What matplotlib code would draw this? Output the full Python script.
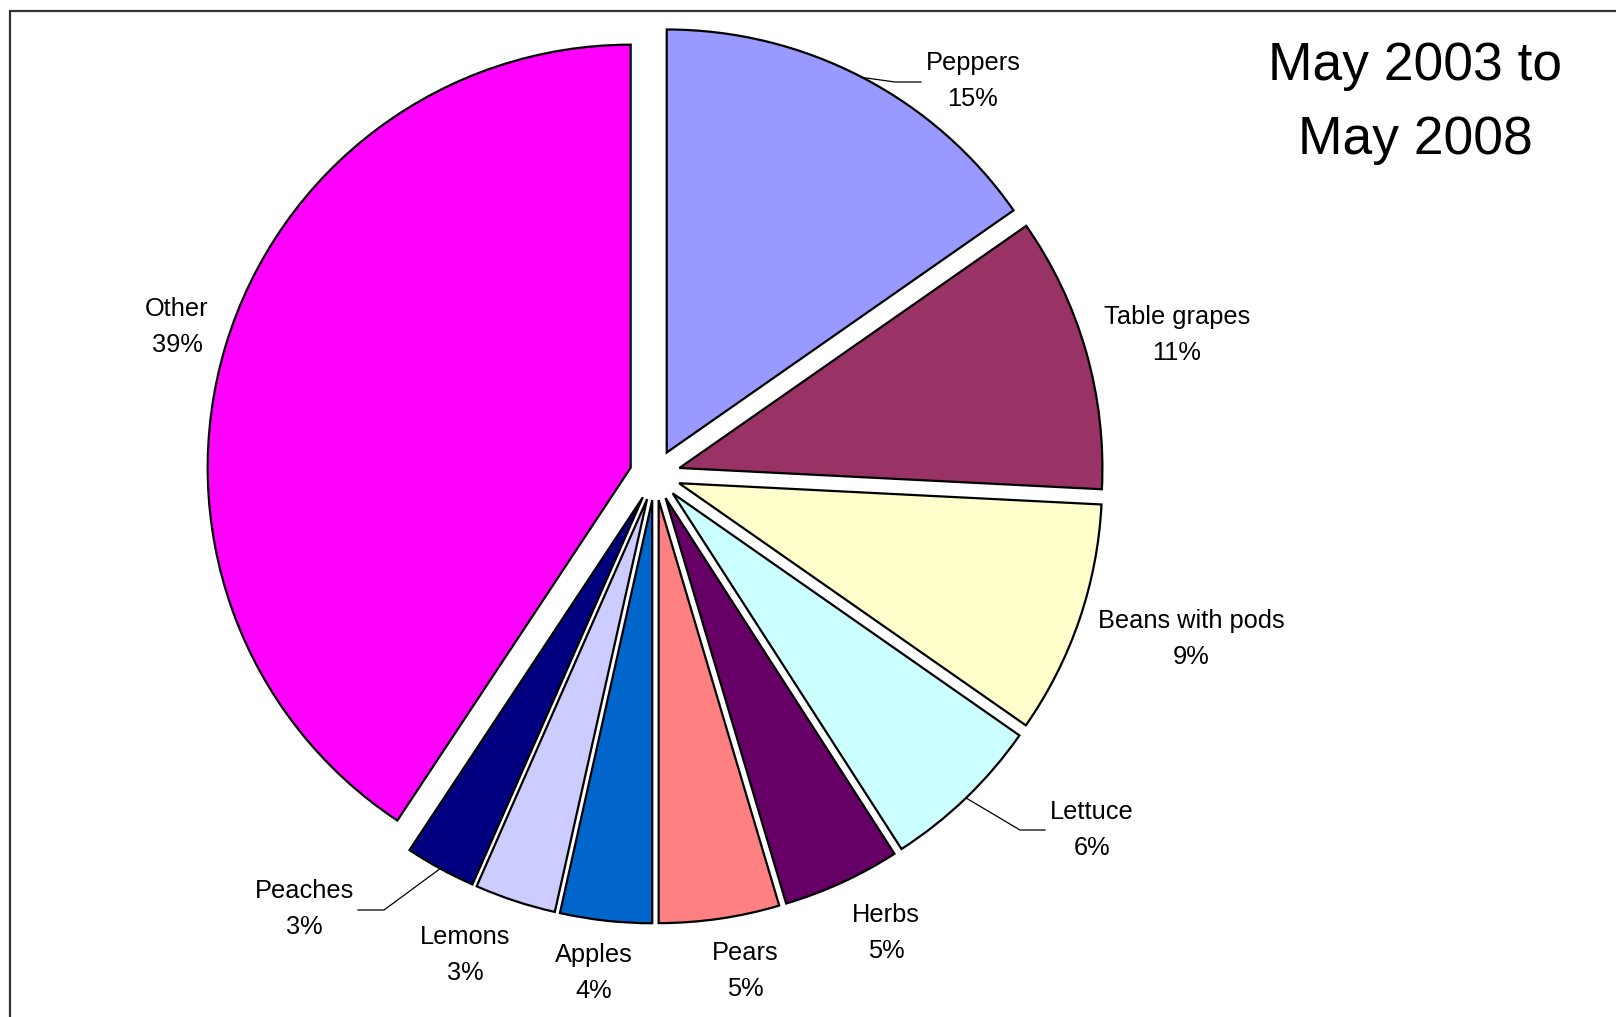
import numpy as np
import matplotlib
matplotlib.use("Agg")
import matplotlib.pyplot as plt
from matplotlib.patches import Rectangle

plt.rcParams['font.family'] = ['Liberation Sans', 'DejaVu Sans']

# slices, clockwise from 12 o'clock
categories = ["Peppers", "Table grapes", "Beans with pods", "Lettuce", "Herbs",
              "Pears", "Apples", "Lemons", "Peaches", "Other"]
# slice sizes
shares = [15.3, 10.5, 8.9, 6.2, 4.5, 4.6, 3.5, 3.1, 2.7, 40.7]
# percentages printed on the labels
pct_text = [15, 11, 9, 6, 5, 5, 4, 3, 3, 39]
colors = ["#9999FF", "#993366", "#FFFFCC", "#CCFFFF", "#660066",
          "#FF8080", "#0066CC", "#CCCCFF", "#000080", "#FF00FF"]

W, H = 1616, 1017
CX, CY, R = 655, 475, 423  # pie centre / radius in pixels


def px(x, y):
    # figure pixel -> data coords (pie radius = 1)
    return (x - CX) / R, (CY - y) / R


# label centres in pixels
label_pos = {
    "Peppers": (973, 81), "Table grapes": (1177, 335), "Beans with pods": (1191, 639),
    "Lettuce": (1092, 830), "Herbs": (886, 933), "Pears": (745, 971),
    "Apples": (594, 973), "Lemons": (465, 955), "Peaches": (304, 909), "Other": (177, 327),
}
# leader lines: elbow and end, pixels
leaders = {
    "Peppers": [(895, 82), (921, 82)],
    "Lettuce": [(1020, 830), (1045, 830)],
    "Peaches": [(384, 910), (358, 910)],
}

fig = plt.figure(figsize=(W / 100, H / 100), dpi=100)
ax = fig.add_axes([0, 0, 1, 1])

wedges, _ = ax.pie(shares, colors=colors, startangle=90, counterclock=False,
                   explode=[0.06] * len(shares),
                   wedgeprops=dict(edgecolor="black", linewidth=1.6))

ax.set_aspect("equal")
ax.set_xlim(-CX / R, (W - CX) / R)
ax.set_ylim((CY - H) / R, CY / R)
ax.axis("off")

for w, name, p in zip(wedges, categories, pct_text):
    x, y = px(*label_pos[name])
    ax.text(x, y, f"{name}\n{p}%", ha="center", va="center",
            fontsize=18.3, linespacing=1.58)
    if name in leaders:
        mid = np.deg2rad((w.theta1 + w.theta2) / 2)
        sx = w.center[0] + w.r * np.cos(mid)
        sy = w.center[1] + w.r * np.sin(mid)
        pts = [(sx, sy)] + [px(*q) for q in leaders[name]]
        xs, ys = zip(*pts)
        ax.plot(xs, ys, color="black", lw=0.9)

fig.text(1415 / W, 1 - 103 / H, "May 2003 to\nMay 2008", ha="center", va="center",
         fontsize=38.4, linespacing=1.6)

# chart frame (only top and left edges show)
fig.patches.append(Rectangle((10 / W, -0.1), 1.2, 1.1 - 11 / H, transform=fig.transFigure,
                             fill=False, edgecolor="#333333", lw=1.6))

fig.savefig("out.png", dpi=100)
